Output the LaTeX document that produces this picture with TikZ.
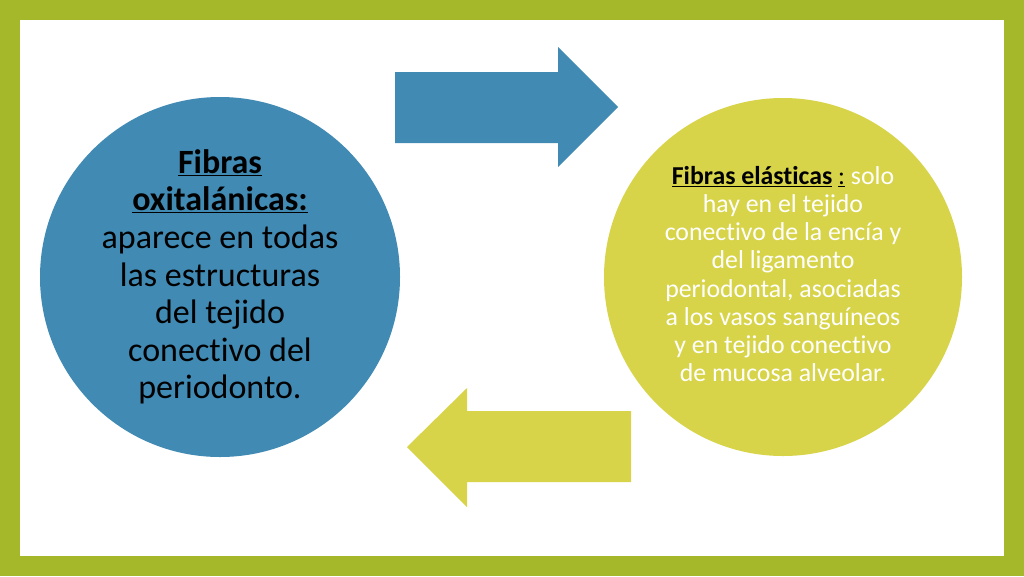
\documentclass[tikz,border=0pt]{standalone}
\usepackage{fontspec}
\setmainfont[Ligatures=NoCommon]{Carlito}
\definecolor{frame}{HTML}{A4B82A}
\definecolor{bluec}{HTML}{418AB3}
\definecolor{yelc}{HTML}{D8D44A}
\begin{document}
\begin{tikzpicture}[x=1pt,y=-1pt,
  circ/.style={circle,inner sep=0pt,minimum size=#1}]
\useasboundingbox (0,0) rectangle (1024,576);
\fill[frame] (0,0) rectangle (1024,576);
\fill[white] (20,20) rectangle (1004,556);
\node[circ=360pt,fill=bluec] (bc) at (220,277) {};
\node[circ=358pt,fill=yelc] (yc) at (783,277) {};
\fill[bluec] (395,72) -- (558,72) -- (558,47) -- (618,107) -- (558,167) -- (558,143) -- (395,143) -- cycle;
\fill[yelc] (631,411) -- (467,411) -- (467,388) -- (407,447) -- (467,507) -- (467,482) -- (631,482) -- cycle;
\node[align=center,font=\fontsize{34}{37.6}\selectfont,text=black] (bt) at (bc.center)
 {\underline{\textbf{Fibras}}\\\underline{\textbf{oxitalánicas:}}\\aparece en todas\\las estructuras\\del tejido\\conectivo del\\periodonto.};
\node[align=center,font=\fontsize{25.8}{28.1}\selectfont,text=white] (yt) at ([yshift=3pt]yc.center)
 {\textcolor{black}{\underline{\textbf{Fibras elásticas}} \underline{:}} solo\\hay en el tejido\\conectivo de la encía y\\del ligamento\\periodontal, asociadas\\a los vasos sanguíneos\\y en tejido conectivo\\de mucosa alveolar.};
\end{tikzpicture}
\end{document}
